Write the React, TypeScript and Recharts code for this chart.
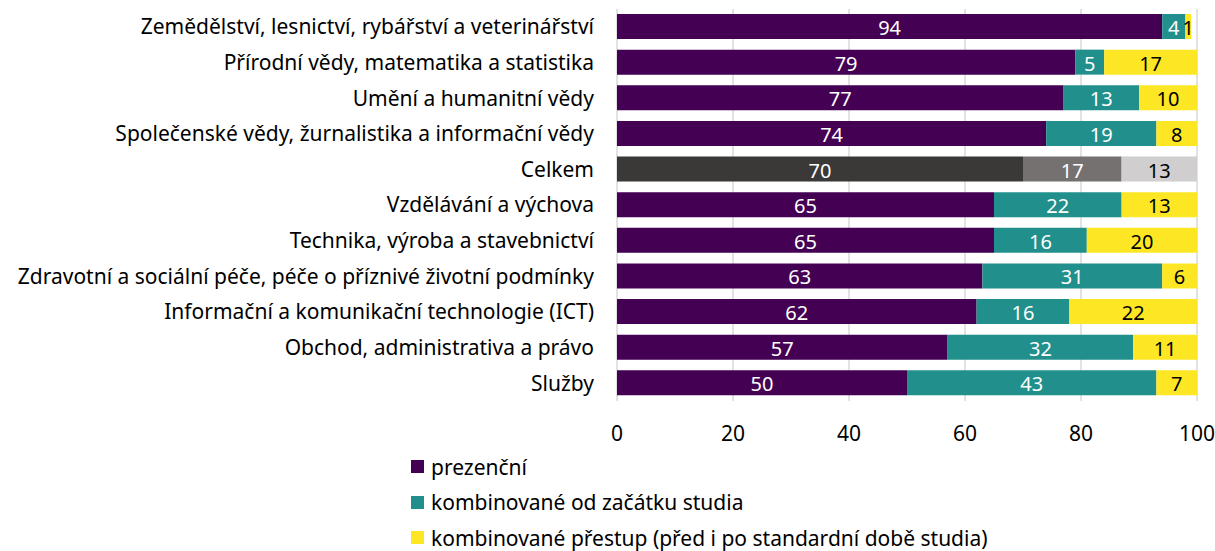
import { BarChart, Bar, XAxis, YAxis, CartesianGrid, Cell, LabelList } from 'recharts'

const categories = [
  'Zemědělství, lesnictví, rybářství a veterinářství',
  'Přírodní vědy, matematika a statistika',
  'Umění a humanitní vědy',
  'Společenské vědy, žurnalistika a informační vědy',
  'Celkem',
  'Vzdělávání a výchova',
  'Technika, výroba a stavebnictví',
  'Zdravotní a sociální péče, péče o příznivé životní podmínky',
  'Informační a komunikační technologie (ICT)',
  'Obchod, administrativa a právo',
  'Služby',
]
const prezencni = [94, 79, 77, 74, 70, 65, 65, 63, 62, 57, 50]
const kombinovane = [4, 5, 13, 19, 17, 22, 16, 31, 16, 32, 43]
const prestup = [1, 17, 10, 8, 13, 13, 20, 6, 22, 11, 7]
const xTicks = [0, 20, 40, 60, 80, 100]

const seriesNames = [
  'prezenční',
  'kombinované od začátku studia',
  'kombinované přestup (před i po standardní době studia)',
]

const data = categories.map((name, i) => ({
  name,
  a: prezencni[i],
  b: kombinovane[i],
  c: prestup[i],
}))

const FONT = '"Noto Sans", sans-serif'
const colors = ['#440154', '#21908C', '#FDE725']
const totalColors = ['#3B3838', '#767171', '#D0CECE']
const labelColors = ['#ffffff', '#ffffff', '#000000']
const TOTAL = 'Celkem'

function makeLabel(series: number) {
  return (props: any) => {
    const { x, y, width, height, value } = props
    return (
      <text
        x={x + width / 2}
        y={y + height / 2 + 1}
        textAnchor="middle"
        dominantBaseline="central"
        fill={labelColors[series]}
        fontSize={20}
        fontFamily={FONT}
      >
        {value}
      </text>
    )
  }
}

const keys = ['a', 'b', 'c']

export default function App() {
  return (
    <div style={{ position: 'absolute', left: 0, top: 0, width: 1215, height: 551, background: '#fff' }}>
      <BarChart
        width={1215}
        height={551}
        data={data}
        layout="vertical"
        margin={{ top: 9, right: 18, left: 0, bottom: 110 }}
      >
        <CartesianGrid horizontal={false} stroke="#D9D9D9" strokeWidth={1.5} />
        <XAxis
          type="number"
          domain={[0, 100]}
          ticks={xTicks}
          allowDataOverflow
          axisLine={false}
          tickLine={false}
          height={40}
          tick={{ fill: '#000', fontSize: 21, fontFamily: FONT }}
          dy={17}
        />
        <YAxis
          type="category"
          dataKey="name"
          width={617}
          axisLine={false}
          tickLine={false}
          interval={0}
          tickMargin={17}
          tick={{ fill: '#000', fontSize: 21, fontFamily: FONT }}
        />
        {keys.map((k, s) => (
          <Bar key={k} dataKey={k} stackId="s" barSize={25} isAnimationActive={false} fill={colors[s]}>
            {data.map((d) => (
              <Cell key={d.name} fill={d.name === TOTAL ? totalColors[s] : colors[s]} />
            ))}
            <LabelList dataKey={k} content={makeLabel(s)} />
          </Bar>
        ))}
      </BarChart>
      <div style={{ position: 'absolute', left: 411, top: 449, fontFamily: FONT, fontSize: 21, color: '#000' }}>
        {seriesNames.map((n, i) => (
          <div key={n} style={{ display: 'flex', alignItems: 'center', height: 35.5 }}>
            <span style={{ width: 13, height: 13, background: colors[i], marginRight: 7, display: 'inline-block' }} />
            <span>{n}</span>
          </div>
        ))}
      </div>
    </div>
  )
}
